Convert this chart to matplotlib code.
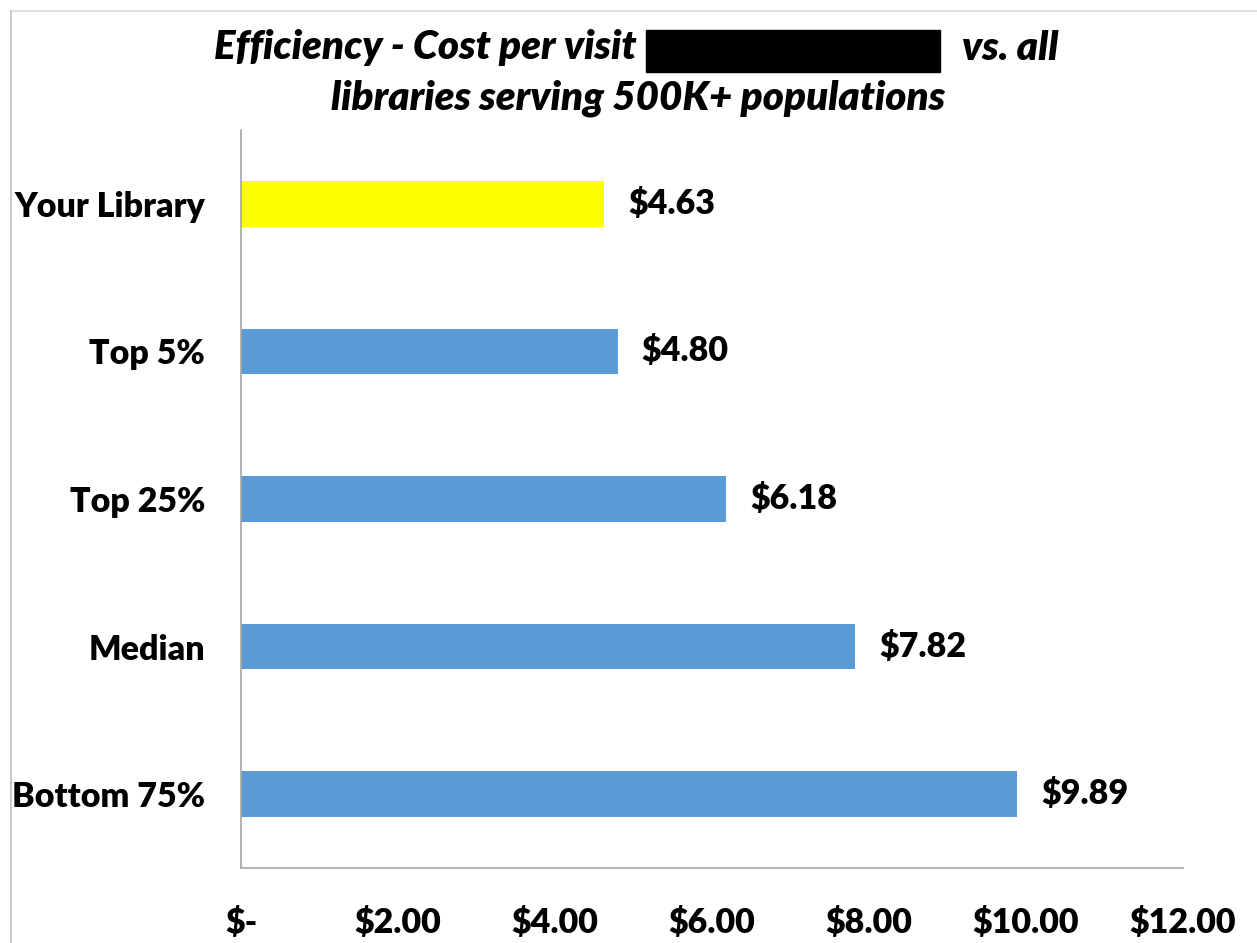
import matplotlib
matplotlib.use("Agg")
import matplotlib.pyplot as plt
from matplotlib.lines import Line2D
from matplotlib.patches import Rectangle

categories = ["Your Library", "Top 5%", "Top 25%", "Median", "Bottom 75%"]
values = [4.63, 4.80, 6.18, 7.82, 9.89]
value_labels = ["$4.63", "$4.80", "$6.18", "$7.82", "$9.89"]
bar_colors = ["#FFFF00", "#5B9BD5", "#5B9BD5", "#5B9BD5", "#5B9BD5"]
xticks = [0, 2, 4, 6, 8, 10, 12]
xtick_labels = ["$-", "$2.00", "$4.00", "$6.00", "$8.00", "$10.00", "$12.00"]

W, H = 1257, 943
fig = plt.figure(figsize=(W / 100, H / 100), dpi=100)
FONT = "Lato"
WT = "heavy"
FS = 24.5

ax = fig.add_axes([241 / W, 1 - 868 / H, (1183 - 241) / W, (868 - 130) / H])
ypos = list(range(len(categories)))
ax.barh(ypos, values, height=0.31, color=bar_colors, zorder=2)
ax.set_xlim(0, 12)
ax.set_ylim(len(categories) - 0.5, -0.5)
ax.set_yticks(ypos)
ax.set_yticklabels(categories, fontfamily=FONT, fontweight=WT, fontsize=FS)
ax.set_xticks(xticks)
ax.set_xticklabels(xtick_labels, fontfamily=FONT, fontweight=WT, fontsize=FS)
ax.tick_params(axis="y", length=0, pad=26)
ax.tick_params(axis="x", length=0, pad=28)
for s in ["top", "right"]:
    ax.spines[s].set_visible(False)
for s in ["left", "bottom"]:
    ax.spines[s].set_color("#A6A6A6")
    ax.spines[s].set_linewidth(1.2)

for y, v, lab in zip(ypos, values, value_labels):
    ax.annotate(lab, xy=(v, y), xytext=(24, 0), textcoords="offset pixels",
                va="center", ha="left", fontfamily=FONT, fontweight=WT, fontsize=FS)

# title
tkw = dict(fontfamily=FONT, fontweight=WT, fontstyle="italic", fontsize=29)
fig.text(636 / W, 1 - 48 / H, "Efficiency - Cost per visit", ha="right", va="center", **tkw)
fig.patches.append(Rectangle((646 / W, 1 - 72 / H), (940 - 646) / W, 42 / H,
                             transform=fig.transFigure, color="black"))
fig.text(962 / W, 1 - 48 / H, "vs. all", ha="left", va="center", **tkw)
fig.text(638 / W, 1 - 98 / H, "libraries serving 500K+ populations", ha="center", va="center", **tkw)

# figure border (cropped)
fig.add_artist(Line2D([11 / W, 1.01], [1 - 11 / H, 1 - 11 / H], transform=fig.transFigure,
                      color="#D9D9D9", lw=1.2))
fig.add_artist(Line2D([11 / W, 11 / W], [1 - 11 / H, -0.01], transform=fig.transFigure,
                      color="#BFBFBF", lw=1.2))

fig.savefig("out.png", dpi=100)
